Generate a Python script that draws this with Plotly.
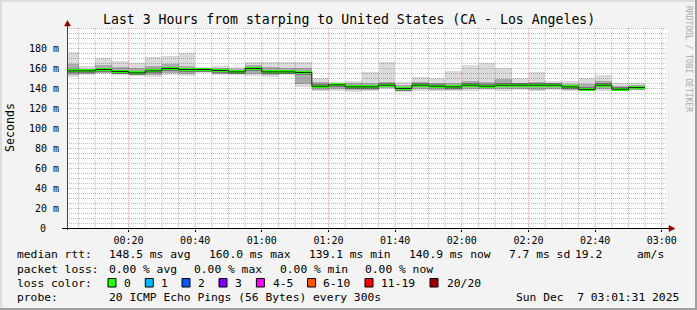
import plotly.graph_objects as go
import pandas as pd

# ---------------- data ----------------
# end time of each 5-minute smokeping step (2025-12-07)
step_end = ["00:05", "00:10", "00:15", "00:20", "00:25", "00:30", "00:35", "00:40",
            "00:45", "00:50", "00:55", "01:00", "01:05", "01:10", "01:15", "01:20",
            "01:25", "01:30", "01:35", "01:40", "01:45", "01:50", "01:55", "02:00",
            "02:05", "02:10", "02:15", "02:20", "02:25", "02:30", "02:35", "02:40",
            "02:45", "02:50", "02:55"]
# ms
ping_min = [151.6, 154, 155, 154, 153, 152, 154, 153, 156, 154, 154, 153, 152, 154, 142,
            138, 138, 136.6, 137.6, 140, 136.6, 138, 137.6, 137.6, 138, 139, 137.6, 139,
            137.6, 139, 137.6, 138, 138, 138, 139]
ping_max = [176.6, 162.6, 171, 168, 166, 172, 173, 176, 162, 163, 161.6, 167, 167, 166.6, 166.6,
            151, 147, 148, 156.6, 167, 147, 152, 151, 157.6, 164, 165.6, 160.6, 151,
            156.6, 148, 148, 151, 154, 145.6, 145.6]
ping_lo = [154, 155, 156, 155, 154, 154, 156, 155, 157, 155, 155, 155, 154, 155, 145,
           139, 140, 139, 139, 141, 138, 140, 139, 139, 140, 140, 140, 140,
           139, 140, 139, 138, 140, 138, 139.5]
ping_hi = [165, 160, 164, 162, 161, 163, 165, 163, 160, 161, 160, 164, 162, 161, 161,
           147, 145, 146, 146, 147, 144, 147, 146, 146, 148, 147, 150, 146,
           147, 146, 145, 145, 148, 143, 144]
median = [157.6, 157.6, 159, 157, 155.6, 157.6, 160, 159, 159, 158, 156.6, 160, 156.6, 156.6, 156,
          142.3, 143.6, 141.6, 141.6, 143.3, 140, 143.3, 142.3, 141.6, 143.3, 142.3, 143.3, 143.3,
          143.3, 143.3, 141.6, 139.1, 143.3, 139.3, 140.9]

y_tick_vals = [0, 20, 40, 60, 80, 100, 120, 140, 160, 180]
y_tick_text = ["0", "20 m", "40 m", "60 m", "80 m", "100 m", "120 m", "140 m", "160 m", "180 m"]
x_tick_text = ["00:20", "00:40", "01:00", "01:20", "01:40", "02:00", "02:20", "02:40", "03:00"]

title = "Last 3 Hours from starping to United States (CA - Los Angeles)"
row_rtt = [(16.4, "median rtt:"), (107.6, "148.5 ms avg"), (207.6, "160.0 ms max"),
           (307.6, "139.1 ms min"), (407.6, "140.9 ms now"), (507.6, "7.7 ms sd"),
           (574, "19.2"), (635.5, "am/s")]
row_loss = [(16.4, "packet loss:"), (107.6, "0.00 % avg"), (193.3, "0.00 % max"),
            (279, "0.00 % min"), (364.4, "0.00 % now")]
loss_labels = ["0", "1", "2", "3", "4-5", "6-10", "11-19", "20/20"]
loss_colors = ["#26ff00", "#00b8ff", "#0059ff", "#7e00ff", "#ff00ff", "#ff5500", "#ff0000", "#a10000"]
loss_box_x = [108, 145.3, 182, 219, 256.4, 307.6, 365, 430]
loss_text_x = [123, 160, 197, 234, 271.5, 322, 380, 445.5]
probe_text = "20 ICMP Echo Pings (56 Bytes) every 300s"
date_text = "Sun Dec\u00a0\u00a07 03:01:31 2025"

# ---------------- geometry helpers ----------------
L, R, T, B = 67, 667, 28, 229
W, H = 697, 310
def px(xp): return (xp - L) / (R - L)
def py(yp): return (B - yp) / (B - T)

DAY = "2025-12-07 "
ends = pd.to_datetime([DAY + t for t in step_end])
centers = ends - pd.Timedelta(seconds=150)
WIDTH_MS = 300000
FONT = "DejaVu Sans Mono"
LEG = 11.3

fig = go.Figure()

def band(lo, hi, color):
    fig.add_trace(go.Bar(x=centers, base=lo, y=[h - l for l, h in zip(lo, hi)],
                         width=WIDTH_MS, marker=dict(color=color, line=dict(width=0)),
                         hoverinfo="skip", showlegend=False))

band(ping_min, ping_max, "rgba(0,0,0,0.14)")
band(ping_lo, ping_hi, "rgba(0,0,0,0.22)")
band([m - 2 for m in median], [m + 2 for m in median], "rgba(0,0,0,0.30)")

# dark median step line
xs = [ends[0] - pd.Timedelta(seconds=300)] + list(ends)
fig.add_trace(go.Scatter(x=xs, y=median + [median[-1]], mode="lines",
                         line=dict(color="#202020", width=1, shape="hv"),
                         hoverinfo="skip", showlegend=False))
# green loss-colour band
band([m - 1.5 for m in median], [m + 1.5 for m in median], "#26ff00")

x0 = pd.Timestamp(DAY + "00:01:33")
x1 = pd.Timestamp(DAY + "03:01:33")

fig.update_layout(
    width=W, height=H, autosize=False,
    margin=dict(l=L, r=W - R, t=T, b=H - B, pad=0),
    paper_bgcolor="#f3f3f3", plot_bgcolor="#ffffff",
    barmode="overlay", bargap=0, showlegend=False,
    font=dict(family=FONT, size=10, color="#000000"),
    xaxis=dict(type="date", range=[x0, x1],
               tickvals=pd.to_datetime([DAY + t for t in x_tick_text]), ticktext=x_tick_text,
               showgrid=False, ticks="outside", ticklen=2, tickcolor="#000000",
               tickfont=dict(family=FONT, size=10), zeroline=False, showline=False,
               fixedrange=True),
    yaxis=dict(range=[-0.5, 200.5], showticklabels=False, showgrid=False,
               ticks="", zeroline=False, showline=False, fixedrange=True),
)

shapes = []
MINOR = "#bdbdbd"
MAJOR = "rgba(255,40,40,0.45)"
# vertical grid (5 min minor, 20 min major)
for t in pd.date_range(DAY + "00:05", DAY + "03:00", freq="5min"):
    major = (t.minute % 20 == 0)
    shapes.append(dict(type="line", xref="x", yref="paper", x0=t, x1=t, y0=0, y1=1,
                       line=dict(color=MAJOR if major else MINOR, width=1, dash="1px,1px"), layer="below"))
# horizontal grid (5 ms minor, 20 ms major)
for v in range(5, 201, 5):
    major = (v % 20 == 0)
    shapes.append(dict(type="line", xref="paper", yref="y", x0=0, x1=1, y0=v, y1=v,
                       line=dict(color=MAJOR if major else MINOR, width=1, dash="1px,1px"), layer="below"))

# frame
shapes.append(dict(type="rect", xref="paper", yref="paper", x0=px(0), x1=px(W), y0=py(0), y1=py(2),
                   fillcolor="#dcdcdc", line=dict(width=0), layer="above"))
shapes.append(dict(type="rect", xref="paper", yref="paper", x0=px(0), x1=px(2), y0=py(0), y1=py(H),
                   fillcolor="#dcdcdc", line=dict(width=0), layer="above"))
shapes.append(dict(type="rect", xref="paper", yref="paper", x0=px(0), x1=px(W), y0=py(H - 2), y1=py(H),
                   fillcolor="#a0a0a0", line=dict(width=0), layer="above"))
shapes.append(dict(type="rect", xref="paper", yref="paper", x0=px(W - 2), x1=px(W), y0=py(0), y1=py(H),
                   fillcolor="#a0a0a0", line=dict(width=0), layer="above"))
# axes with arrows
shapes.append(dict(type="line", xref="paper", yref="paper", x0=px(62), x1=px(670), y0=py(228.5), y1=py(228.5),
                   line=dict(color="#000000", width=1), layer="above"))
shapes.append(dict(type="line", xref="paper", yref="paper", x0=px(67.5), x1=px(67.5), y0=py(230), y1=py(24),
                   line=dict(color="#404040", width=1), layer="above"))
shapes.append(dict(type="path", xref="paper", yref="paper",
                   path=f"M {px(669)} {py(225.5)} L {px(675)} {py(228.5)} L {px(669)} {py(231.5)} Z",
                   fillcolor="#900000", line=dict(color="#900000", width=0.5), layer="above"))
shapes.append(dict(type="path", xref="paper", yref="paper",
                   path=f"M {px(64.5)} {py(26)} L {px(67.5)} {py(20.5)} L {px(70.5)} {py(26)} Z",
                   fillcolor="#900000", line=dict(color="#900000", width=0.5), layer="above"))
# loss colour swatches
for bx, c in zip(loss_box_x, loss_colors):
    shapes.append(dict(type="rect", xref="paper", yref="paper", x0=px(bx), x1=px(bx + 8),
                       y0=py(287), y1=py(278.5), fillcolor=c, line=dict(color="#000000", width=1)))
fig.update_layout(shapes=shapes)

ann = []
def text(xp, yp, s, size=LEG, anchor="left", color="#000000", angle=0):
    ann.append(dict(x=px(xp), y=py(yp), xref="paper", yref="paper", text=s, showarrow=False,
                    xanchor=anchor, yanchor="middle", textangle=angle, borderpad=0,
                    font=dict(family=FONT, size=size, color=color)))

text(348.5, 19, title, size=13.2, anchor="center")
for xp, s in row_rtt:
    text(xp, 254.5, s.replace(" ", "\u00a0"))
for xp, s in row_loss:
    text(xp, 269, s.replace(" ", "\u00a0"))
text(16.4, 283, "loss\u00a0color:")
for xp, s in zip(loss_text_x, loss_labels):
    text(xp, 283, s)
text(16.4, 297.5, "probe:")
text(107.6, 297.5, probe_text.replace(" ", "\u00a0"))
text(680, 297.5, date_text, anchor="right")
text(10, 128, "Seconds", angle=-90, anchor="center", size=11.6)
text(688, 59, "RRDTOOL\u00a0/\u00a0TOBI\u00a0OETIKER", size=8, color="#a8a8a8", angle=90, anchor="center")

# y tick labels (rrdtool style, right aligned)
for v, s in zip(y_tick_vals, y_tick_text):
    ann.append(dict(x=0, y=v, xref="paper", yref="y", text=s.replace(" ", "\u00a0"), showarrow=False,
                    xanchor="right", yanchor="middle", xshift=-7 if v else -20, borderpad=0,
                    font=dict(family=FONT, size=10, color="#000000")))
fig.update_layout(annotations=ann)

fig.write_html("out.html")
